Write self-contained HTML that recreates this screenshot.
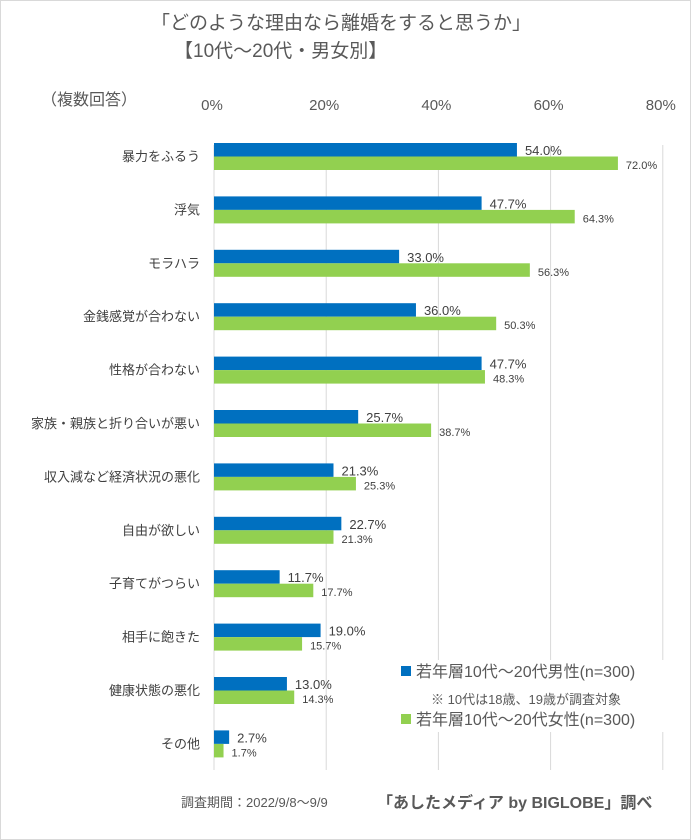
<!DOCTYPE html>
<html><head><meta charset="utf-8"><style>
body{margin:0;background:#fff;}
#wrap{position:relative;width:689px;height:838px;border:1px solid #d9d9d9;background:#fff;font-family:"Liberation Sans","Noto Sans CJK JP",sans-serif;overflow:hidden}
.t{position:absolute;color:#595959;white-space:nowrap}
</style></head><body>
<div id="wrap">
<div class="t" style="left:150px;top:10px;font-size:19px;line-height:26px">「どのような理由なら離婚をすると思うか」</div>
<div class="t" style="left:173px;top:38px;font-size:19px;line-height:26px">【10代～20代・男女別】</div>
<div class="t" style="left:40px;top:85px;font-size:16px">（複数回答）</div>
<svg id="chart" width="691" height="840" style="position:absolute;left:-1px;top:-1px"></svg>
<div class="t" style="left:430px;top:688px;font-size:13px">※ 10代は18歳、19歳が調査対象</div>
<div class="t" style="left:180px;top:791px;font-size:13px">調査期間：2022/9/8～9/9</div>
<div class="t" style="left:376px;top:788px;font-size:16px;font-weight:bold">「あしたメディア by BIGLOBE」調べ</div>
</div>
<script>
const categories=["暴力をふるう","浮気","モラハラ","金銭感覚が合わない","性格が合わない","家族・親族と折り合いが悪い","収入減など経済状況の悪化","自由が欲しい","子育てがつらい","相手に飽きた","健康状態の悪化","その他"];
const maleValues=[54.0,47.7,33.0,36.0,47.7,25.7,21.3,22.7,11.7,19.0,13.0,2.7];
const femaleValues=[72.0,64.3,56.3,50.3,48.3,38.7,25.3,21.3,17.7,15.7,14.3,1.7];
const ticks=[0,20,40,60,80];
const seriesNames=["若年層10代～20代男性(n=300)","若年層10代～20代女性(n=300)"];
const NS="http://www.w3.org/2000/svg";
const svg=document.getElementById('chart');
const x=v=>214+v*5.61;
const rowY=i=>143+i*53.4;
function mk(tag,attrs,text){const e=document.createElementNS(NS,tag);for(const k in attrs)e.setAttribute(k,attrs[k]);if(text!==undefined)e.textContent=text;svg.appendChild(e);return e;}
const F='"Liberation Sans","Noto Sans CJK JP",sans-serif';
ticks.forEach(t=>{
 const g=mk('line',{x1:x(t),x2:x(t),y1:145,y2:770,stroke:'#d9d9d9','stroke-width':1});
 
 
 const l=mk('text',{x:x(t)-2,y:110,'text-anchor':'middle','font-size':15,fill:'#595959','font-family':F},t+'%');
 
 
});
categories.forEach((c,i)=>{
 const y=rowY(i);
 const cl=mk('text',{x:200,y:y+18,'text-anchor':'end','font-size':13,fill:'#404040','font-family':F},c);
 
 
 const b1=mk('rect',{x:x(0),y:y,width:x(maleValues[i])-x(0),height:13.5,fill:'#0070c0'});
 
 
 const b2=mk('rect',{x:x(0),y:y+13.5,width:x(femaleValues[i])-x(0),height:13.5,fill:'#92d050'});
 
 
 const v1=mk('text',{x:x(maleValues[i])+8,y:y+12,'font-size':13,fill:'#404040','font-family':F},maleValues[i].toFixed(1)+'%');
 
 
 const v2=mk('text',{x:x(femaleValues[i])+8,y:y+26,'font-size':11,fill:'#404040','font-family':F},femaleValues[i].toFixed(1)+'%');
 
 
});
const lw=mk('rect',{x:395,y:660,width:270,height:72,fill:'#fff'});


[['#0070c0',664],['#92d050',712]].forEach((s,k)=>{
 const r=mk('rect',{x:401,y:s[1]+2,width:10,height:10,fill:s[0]});
 
 
 const t=mk('text',{x:416,y:s[1]+13,'font-size':16,fill:'#595959','font-family':F},seriesNames[k]);
 
 
});
</script>
</body></html>
